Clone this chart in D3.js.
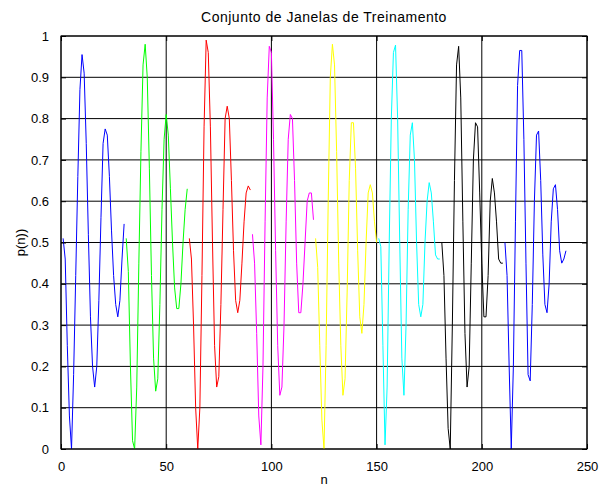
<!DOCTYPE html>
<html>
<head>
<meta charset="utf-8">
<script src="https://cdn.jsdelivr.net/npm/d3@7"></script>
<style>
  body { margin: 0; background: #fff; }
  text { font-family: "Liberation Sans", Arial, sans-serif; }
</style>
</head>
<body>
<div id="chart"></div>
<script>
// eight training windows of 30 samples each
var janela1 = [0.51,0.46,0.25,0.08,0.0,0.18,0.42,0.66,0.87,0.955,0.91,0.74,0.52,0.32,0.2,0.15,0.2,0.36,0.56,0.74,0.775,0.76,0.66,0.53,0.42,0.35,0.32,0.36,0.46,0.545];
var janela2 = [0.51,0.43,0.2,0.02,0.0,0.15,0.45,0.72,0.93,0.98,0.9,0.68,0.42,0.22,0.14,0.17,0.35,0.58,0.75,0.81,0.76,0.63,0.5,0.39,0.34,0.34,0.4,0.5,0.58,0.63];
var janela3 = [0.51,0.46,0.3,0.1,0.0,0.1,0.42,0.78,0.99,0.96,0.78,0.5,0.25,0.15,0.175,0.35,0.58,0.8,0.83,0.8,0.65,0.48,0.36,0.33,0.36,0.45,0.55,0.62,0.637,0.627];
var janela4 = [0.52,0.45,0.28,0.08,0.01,0.2,0.55,0.85,0.975,0.96,0.75,0.48,0.25,0.13,0.15,0.3,0.55,0.75,0.81,0.8,0.65,0.45,0.33,0.33,0.4,0.5,0.6,0.62,0.62,0.555];
var janela5 = [0.51,0.44,0.25,0.07,0.0,0.25,0.6,0.9,0.98,0.93,0.72,0.45,0.25,0.13,0.17,0.38,0.65,0.79,0.79,0.68,0.48,0.32,0.28,0.35,0.5,0.62,0.64,0.62,0.55,0.5];
var janela6 = [0.51,0.49,0.25,0.01,0.15,0.5,0.8,0.96,0.978,0.8,0.5,0.22,0.13,0.3,0.58,0.76,0.79,0.7,0.5,0.35,0.32,0.35,0.5,0.6,0.645,0.62,0.55,0.47,0.46,0.46];
var janela7 = [0.5,0.42,0.22,0.05,0.0,0.3,0.65,0.93,0.975,0.85,0.55,0.28,0.15,0.2,0.45,0.7,0.79,0.78,0.62,0.45,0.32,0.32,0.42,0.6,0.655,0.62,0.55,0.46,0.45,0.45];
var janela8 = [0.5,0.42,0.2,0.0,0.2,0.55,0.88,0.965,0.965,0.75,0.45,0.18,0.165,0.35,0.6,0.76,0.77,0.65,0.47,0.35,0.33,0.4,0.55,0.63,0.64,0.58,0.48,0.45,0.46,0.48];
var janelas = [janela1, janela2, janela3, janela4, janela5, janela6, janela7, janela8];
var cores = ["#0000ff", "#00ff00", "#ff0000", "#ff00ff", "#ffff00", "#00ffff", "#000000", "#0000ff"];
var xTicks = [0, 50, 100, 150, 200, 250];
var yTicks = [0, 0.1, 0.2, 0.3, 0.4, 0.5, 0.6, 0.7, 0.8, 0.9, 1];

var w = 599, h = 489;
var margin = {top: 36, right: 12, bottom: 40, left: 61};

var svg = d3.select("#chart").append("svg")
    .attr("width", w)
    .attr("height", h);
svg.append("rect").attr("width", w).attr("height", h).attr("fill", "#fff");

var x = d3.scaleLinear().domain([0, 250]).range([margin.left, w - margin.right]);
var y = d3.scaleLinear().domain([0, 1]).range([h - margin.bottom, margin.top]);

// grid
var grid = svg.append("g").attr("stroke", "#000").attr("stroke-width", 1);
grid.selectAll("line.gx")
    .data(xTicks)
    .enter()
    .append("line")
    .attr("x1", function (d) { return x(d); })
    .attr("x2", function (d) { return x(d); })
    .attr("y1", y(0))
    .attr("y2", y(1));
grid.selectAll("line.gy")
    .data(yTicks)
    .enter()
    .append("line")
    .attr("x1", x(0))
    .attr("x2", x(250))
    .attr("y1", function (d) { return y(d); })
    .attr("y2", function (d) { return y(d); });

// windows
var line = d3.line()
    .x(function (d) { return x(d.n); })
    .y(function (d) { return y(d.v); });
janelas.forEach(function (jan, k) {
    var pts = jan.map(function (v, i) { return {n: k * 30 + i + 1, v: v}; });
    svg.append("path")
        .datum(pts)
        .attr("fill", "none")
        .attr("stroke", cores[k])
        .attr("stroke-width", 1)
        .attr("d", line);
});

// axes, ticks pointing inwards on all four sides
var fmtY = function (d) { return d === 0 || d === 1 ? d : d3.format(".1f")(d); };
var gx = svg.append("g")
    .attr("transform", "translate(0," + y(0) + ")")
    .call(d3.axisBottom(x).tickValues(xTicks).tickSizeInner(-5).tickSizeOuter(0)
        .tickPadding(13).tickFormat(d3.format("d")));
var gy = svg.append("g")
    .attr("transform", "translate(" + x(0) + ",0)")
    .call(d3.axisLeft(y).tickValues(yTicks).tickSizeInner(-5).tickSizeOuter(0)
        .tickPadding(12).tickFormat(fmtY));
var gt = svg.append("g")
    .attr("transform", "translate(0," + y(1) + ")")
    .call(d3.axisTop(x).tickValues(xTicks).tickSizeInner(-5).tickSizeOuter(0).tickFormat(""));
var gr = svg.append("g")
    .attr("transform", "translate(" + x(250) + ",0)")
    .call(d3.axisRight(y).tickValues(yTicks).tickSizeInner(-5).tickSizeOuter(0).tickFormat(""));
[gx, gy, gt, gr].forEach(function (g) {
    g.select(".domain").remove();
    g.selectAll("line").attr("stroke", "#000");
    g.selectAll("text")
        .attr("fill", "#000")
        .attr("font-size", 13)
        .attr("font-family", "'Liberation Sans', Arial, sans-serif");
});

svg.append("rect")
    .attr("x", x(0))
    .attr("y", y(1))
    .attr("width", x(250) - x(0))
    .attr("height", y(0) - y(1))
    .attr("fill", "none")
    .attr("stroke", "#000")
    .attr("stroke-width", 1);

svg.append("text")
    .attr("x", (x(0) + x(250)) / 2)
    .attr("y", 22)
    .attr("text-anchor", "middle")
    .attr("font-size", 14)
    .attr("letter-spacing", 0.5)
    .text("Conjunto de Janelas de Treinamento");

svg.append("text")
    .attr("x", (x(0) + x(250)) / 2)
    .attr("y", 484)
    .attr("text-anchor", "middle")
    .attr("font-size", 13)
    .text("n");

svg.append("text")
    .attr("transform", "translate(25," + (y(0.5)) + ") rotate(-90)")
    .attr("text-anchor", "middle")
    .attr("font-size", 13)
    .text("p(n))");
</script>
</body>
</html>
